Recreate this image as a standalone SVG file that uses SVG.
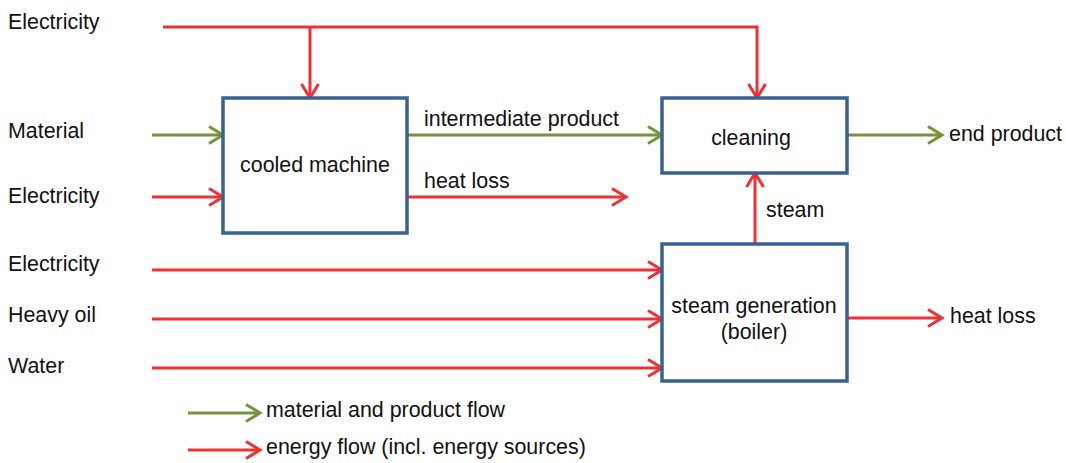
<svg xmlns="http://www.w3.org/2000/svg" width="1066" height="463" viewBox="0 0 1066 463">
<style>
text{font-family:"Liberation Sans",Arial,sans-serif;font-size:21.4px;fill:#111}
.box{fill:#fff;stroke:#386290;stroke-width:3.5}
.r{fill:none;stroke:#ee3134;stroke-width:3}
.g{fill:none;stroke:#77933c;stroke-width:3}
.mid{text-anchor:middle}
</style>
<defs>
<marker id="ar" markerUnits="userSpaceOnUse" markerWidth="20" markerHeight="22" refX="16" refY="11" orient="auto" overflow="visible">
<path d="M2,2.5 L16,11 L2,19.5" fill="none" stroke="#ee3134" stroke-width="3"/>
</marker>
<marker id="ag" markerUnits="userSpaceOnUse" markerWidth="20" markerHeight="22" refX="16" refY="11" orient="auto" overflow="visible">
<path d="M2,2.5 L16,11 L2,19.5" fill="none" stroke="#77933c" stroke-width="3"/>
</marker>
</defs>
<rect width="1066" height="463" fill="#fff"/>
<g id="connectors">
<path class="r" d="M163,27 H757 V98" marker-end="url(#ar)"/>
<path class="r" d="M310,27 V98" marker-end="url(#ar)"/>
<path class="g" d="M152,135 H223" marker-end="url(#ag)"/>
<path class="r" d="M152,197 H223" marker-end="url(#ar)"/>
<path class="g" d="M407,135 H662" marker-end="url(#ag)"/>
<path class="r" d="M407,197 H626" marker-end="url(#ar)"/>
<path class="g" d="M847,135 H942" marker-end="url(#ag)"/>
<path class="r" d="M755,244 V173" marker-end="url(#ar)"/>
<path class="r" d="M152,270 H662" marker-end="url(#ar)"/>
<path class="r" d="M152,319 H662" marker-end="url(#ar)"/>
<path class="r" d="M152,368 H662" marker-end="url(#ar)"/>
<path class="r" d="M847,318 H942" marker-end="url(#ar)"/>
<path class="g" d="M188,413 H260" marker-end="url(#ag)"/>
<path class="r" d="M188,450 H260" marker-end="url(#ar)"/>
</g>
<g id="cooled-machine">
<rect class="box" x="223" y="98" width="184" height="135"/>
<text class="mid" x="315" y="172">cooled machine</text>
</g>
<g id="cleaning">
<rect class="box" x="662" y="98" width="185" height="75"/>
<text class="mid" x="751" y="145">cleaning</text>
</g>
<g id="steam-generation">
<rect class="box" x="662" y="244" width="185" height="137"/>
<text class="mid" x="754" y="313">steam generation</text>
<text class="mid" x="754" y="339">(boiler)</text>
</g>
<g id="labels">
<text x="8" y="29">Electricity</text>
<text x="8" y="138">Material</text>
<text x="8" y="203">Electricity</text>
<text x="8" y="271">Electricity</text>
<text x="8" y="322">Heavy oil</text>
<text x="8" y="373">Water</text>
<text x="424" y="126">intermediate product</text>
<text x="424" y="188">heat loss</text>
<text x="766" y="217">steam</text>
<text x="949" y="141">end product</text>
<text x="950" y="323">heat loss</text>
<text x="266" y="417">material and product flow</text>
<text x="266" y="454">energy flow (incl. energy sources)</text>
</g>
</svg>
